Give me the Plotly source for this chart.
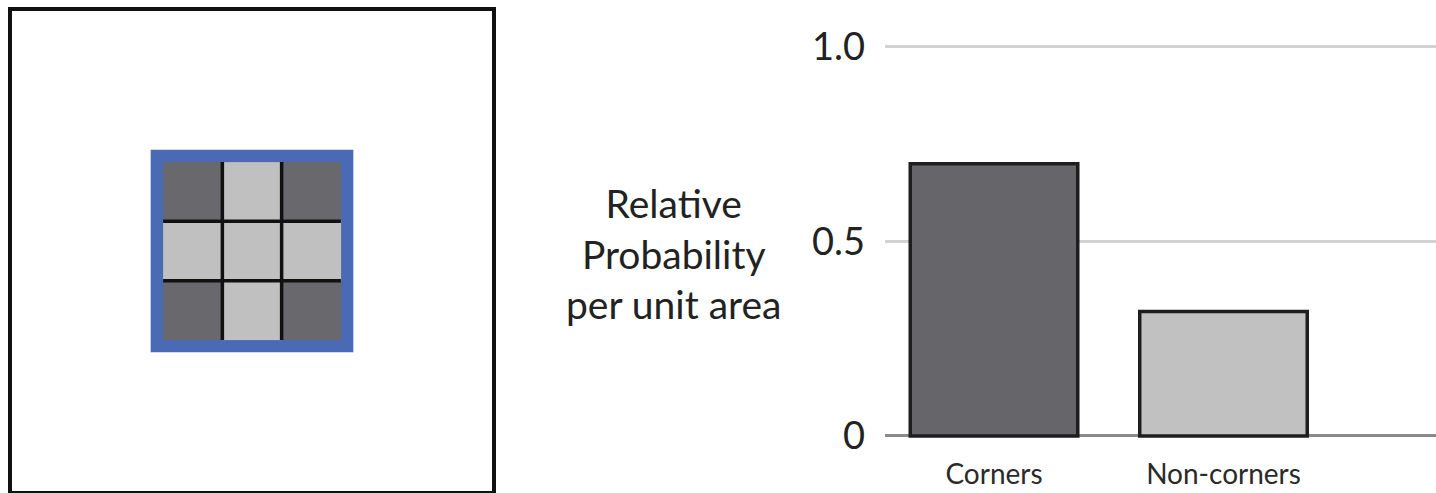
import plotly.graph_objects as go

# ---- data ----
categories = ["Corners", "Non-corners"]
values = [0.70, 0.32]
bar_colors = ["#666569", "#c1c1c1"]

y_tickvals = [0, 0.5, 1.0]
y_ticktext = ["0", "0.5", "1.0"]
y_title_lines = ["Relative", "Probability", "per unit area"]

# 3x3 grid: 1 = corner cell, 0 = non-corner cell
grid_x = [0, 1, 2]
grid_y = [0, 1, 2]
grid_z = [[1, 0, 1],
          [0, 0, 0],
          [1, 0, 1]]

W, H = 1436, 493
FONT = "Lato"

fig = go.Figure()

# ---- left panel: grid as heatmap ----
fig.add_trace(go.Heatmap(
    x=grid_x, y=grid_y, z=grid_z,
    colorscale=[[0, "#c0c0c0"], [1, "#69686c"]],
    zmin=0, zmax=1, showscale=False, hoverinfo="skip",
    xaxis="x2", yaxis="y2",
))

# blue border around the grid (below the heatmap)
n = len(grid_x)
pad = 0.21
fig.add_shape(type="rect", xref="x2", yref="y2",
              x0=-0.5 - pad, x1=n - 0.5 + pad, y0=-0.5 - pad, y1=n - 0.5 + pad,
              fillcolor="#4a6ab6", line=dict(width=0), layer="below")
# black separating lines between cells
for b in [i + 0.5 for i in range(n - 1)]:
    fig.add_shape(type="line", xref="x2", yref="y2", x0=b, x1=b, y0=-0.5, y1=n - 0.5,
                  line=dict(color="#111111", width=3.5), layer="above")
    fig.add_shape(type="line", xref="x2", yref="y2", x0=-0.5, x1=n - 0.5, y0=b, y1=b,
                  line=dict(color="#111111", width=3.5), layer="above")

# ---- right panel: bars ----
fig.add_trace(go.Bar(
    x=categories, y=values,
    marker=dict(color=bar_colors, line=dict(color="#1e1e1e", width=3.5)),
    width=0.73, hoverinfo="skip",
    xaxis="x", yaxis="y",
))

fig.add_annotation(
    text="<br>".join(y_title_lines), xref="paper", yref="paper",
    x=673 / W, y=1 - 254 / H, xanchor="center", yanchor="middle",
    showarrow=False, align="center",
    font=dict(family=FONT, size=39, color="#222222"),
)

fig.update_layout(
    width=W, height=H,
    margin=dict(l=0, r=0, t=0, b=0),
    paper_bgcolor="white", plot_bgcolor="white",
    showlegend=False,
    font=dict(family=FONT, color="#222222"),
    xaxis=dict(
        domain=[885 / W, 1.0], range=[-0.475, 1.926],
        showgrid=False, showline=False, zeroline=False, ticks="",
        tickfont=dict(family=FONT, size=28, color="#2a2a2a"),
        ticklabelstandoff=13, automargin=False, fixedrange=True,
    ),
    yaxis=dict(
        domain=[(H - 441.8) / H, (H - 15.8) / H], range=[-0.015, 1.08],
        tickvals=y_tickvals, ticktext=y_ticktext,
        showgrid=True, gridcolor="#d2d2d2", gridwidth=2.5,
        zeroline=True, zerolinecolor="#8a8a8a", zerolinewidth=3,
        showline=False, ticks="",
        tickfont=dict(family=FONT, size=38, color="#222222"),
        ticklabelstandoff=19, automargin=False, fixedrange=True,
    ),
    xaxis2=dict(
        domain=[12 / W, 492 / W], range=[-3.05, 5.05],
        showgrid=False, zeroline=False, showticklabels=False, ticks="",
        showline=True, mirror=True, linecolor="#111111", linewidth=3.5,
        anchor="y2", automargin=False, fixedrange=True,
    ),
    yaxis2=dict(
        domain=[(H - 491) / H, (H - 11) / H], range=[-3.05, 5.05],
        showgrid=False, zeroline=False, showticklabels=False, ticks="",
        showline=True, mirror=True, linecolor="#111111", linewidth=3.5,
        anchor="x2", automargin=False, fixedrange=True,
    ),
)

fig.write_html("out.html", config={"displayModeBar": False},
               post_script="document.body.style.margin='0';")
